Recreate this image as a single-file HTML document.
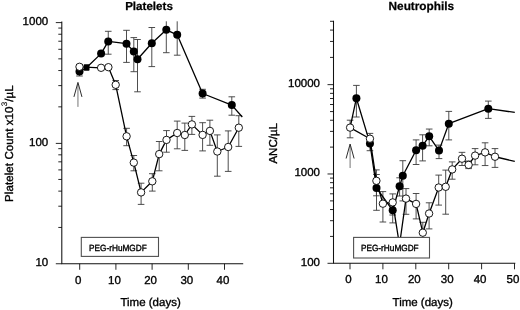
<!DOCTYPE html>
<html lang="en"><head><meta charset="utf-8"><title>Platelets and Neutrophils</title>
<style>html,body{margin:0;padding:0;background:#fff}body{width:520px;height:310px;overflow:hidden}svg{display:block}</style>
</head><body>
<svg width="520" height="310" viewBox="0 0 520 310" font-family='"Liberation Sans", sans-serif' text-rendering="geometricPrecision">
<style>text{fill:#000;stroke:#000;stroke-width:0.35px;stroke-linejoin:round}</style>
<rect width="520" height="310" fill="#fff"/>
<path d="M61.8 21.4V263.75H243.2" fill="none" stroke="#111" stroke-width="1.05"/>
<path d="M55.8 22.6H61.8M55.8 143.4H61.8M55.8 263.75H61.8M58.3 227.45H61.8M58.3 206.21H61.8M58.3 191.14H61.8M58.3 179.45H61.8M58.3 169.90H61.8M58.3 161.83H61.8M58.3 154.84H61.8M58.3 148.67H61.8M58.3 106.85H61.8M58.3 85.61H61.8M58.3 70.54H61.8M58.3 58.85H61.8M58.3 49.30H61.8M58.3 41.23H61.8M58.3 34.24H61.8M58.3 28.07H61.8M79.70 263.75V269.75M115.90 263.75V269.75M152.10 263.75V269.75M188.30 263.75V269.75M224.50 263.75V269.75" fill="none" stroke="#000" stroke-width="0.85"/>
<path d="M79.5 67V76M76.2 76H82.8M76.2 67H82.8M108.25 31.3V54.2M104.95 54.2H111.55M104.95 31.3H111.55M126.5 30.3V62.4M123.2 62.4H129.8M123.2 30.3H129.8M133.8 37.6V71.7M130.5 71.7H137.1M130.5 37.6H137.1M137.5 39.5V91.8M134.2 91.8H140.8M134.2 39.5H140.8M151.8 27.5V66.6M148.5 66.6H155.1M148.5 27.5H155.1M166.3 21.3V52.7M163.0 52.7H169.6M177.2 21.3V55.2M173.9 55.2H180.5M202.6 89.3V98.1M199.3 98.1H205.9M199.3 89.3H205.9M231.8 96.8V115.2M228.5 115.2H235.1M228.5 96.8H235.1M115.7 80.5V89.6M112.4 89.6H119.0M112.4 80.5H119.0M126.6 128.3V145.7M123.3 145.7H129.9M123.3 128.3H129.9M133.8 155.5V170.8M130.5 170.8H137.1M130.5 155.5H137.1M141.1 183.2V204.4M137.8 204.4H144.4M137.8 183.2H144.4M152.3 173.7V191.1M149.0 191.1H155.6M149.0 173.7H155.6M159.2 141.5V170.8M155.9 170.8H162.5M155.9 141.5H162.5M166.5 130.6V152.2M163.2 152.2H169.8M163.2 130.6H169.8M177.2 121.1V148.8M173.9 148.8H180.5M173.9 121.1H180.5M184.8 123.1V150.4M181.5 150.4H188.1M181.5 123.1H188.1M191.9 116.4V134.4M188.6 134.4H195.2M188.6 116.4H195.2M202.6 122.7V150.9M199.3 150.9H205.9M199.3 122.7H205.9M209.9 120.2V145.3M206.6 145.3H213.2M206.6 120.2H213.2M217.3 134.9V176.2M214.0 176.2H220.6M214.0 134.9H220.6M228.2 130.9V171.4M224.9 171.4H231.5M224.9 130.9H231.5M238.8 115.7V146.4M235.5 146.4H242.1M235.5 115.7H242.1" fill="none" stroke="#3a3a3a" stroke-width="0.9"/>
<path d="M79.5 71.6 L86.6 67.5 L101.1 53.6 L108.25 41.4 L126.5 43.7 L133.8 51.4 L137.5 59.2 L151.8 43.3 L166.3 29.8 L177.2 34.8 L202.6 93.5 L231.8 105.1 L242.3 117" fill="none" stroke="#000" stroke-width="1.3" stroke-linejoin="round"/>
<circle cx="79.5" cy="71.6" r="4.0" fill="#000"/>
<rect x="83.7" y="64.3" width="5.8" height="6.4" rx="0.8" fill="#000"/>
<circle cx="101.1" cy="53.6" r="4.0" fill="#000"/>
<circle cx="108.25" cy="41.4" r="4.0" fill="#000"/>
<circle cx="126.5" cy="43.7" r="4.0" fill="#000"/>
<circle cx="133.8" cy="51.4" r="4.0" fill="#000"/>
<circle cx="137.5" cy="59.2" r="4.0" fill="#000"/>
<circle cx="151.8" cy="43.3" r="4.0" fill="#000"/>
<circle cx="166.3" cy="29.8" r="4.0" fill="#000"/>
<circle cx="177.2" cy="34.8" r="4.0" fill="#000"/>
<circle cx="202.6" cy="93.5" r="4.0" fill="#000"/>
<circle cx="231.8" cy="105.1" r="4.0" fill="#000"/>
<path d="M79.5 66.8 L101.1 67.8 L108.4 67.2 L115.7 84.8 L126.6 136.3 L133.8 162.6 L141.1 192.4 L152.3 181.3 L159.2 154.1 L166.5 139.9 L177.2 133.0 L184.8 135 L191.9 124.4 L202.6 134.9 L209.9 130.9 L217.3 151.5 L228.2 147 L238.8 127.7" fill="none" stroke="#000" stroke-width="1.3" stroke-linejoin="round"/>
<circle cx="79.5" cy="66.8" r="3.7" fill="#fff" stroke="#000" stroke-width="0.9"/>
<circle cx="101.1" cy="67.8" r="3.7" fill="#fff" stroke="#000" stroke-width="0.9"/>
<circle cx="108.4" cy="67.2" r="3.7" fill="#fff" stroke="#000" stroke-width="0.9"/>
<circle cx="115.7" cy="84.8" r="3.7" fill="#fff" stroke="#000" stroke-width="0.9"/>
<circle cx="126.6" cy="136.3" r="3.7" fill="#fff" stroke="#000" stroke-width="0.9"/>
<circle cx="133.8" cy="162.6" r="3.7" fill="#fff" stroke="#000" stroke-width="0.9"/>
<circle cx="141.1" cy="192.4" r="3.7" fill="#fff" stroke="#000" stroke-width="0.9"/>
<circle cx="152.3" cy="181.3" r="3.7" fill="#fff" stroke="#000" stroke-width="0.9"/>
<circle cx="159.2" cy="154.1" r="3.7" fill="#fff" stroke="#000" stroke-width="0.9"/>
<circle cx="166.5" cy="139.9" r="3.7" fill="#fff" stroke="#000" stroke-width="0.9"/>
<circle cx="177.2" cy="133.0" r="3.7" fill="#fff" stroke="#000" stroke-width="0.9"/>
<circle cx="184.8" cy="135" r="3.7" fill="#fff" stroke="#000" stroke-width="0.9"/>
<circle cx="191.9" cy="124.4" r="3.7" fill="#fff" stroke="#000" stroke-width="0.9"/>
<circle cx="202.6" cy="134.9" r="3.7" fill="#fff" stroke="#000" stroke-width="0.9"/>
<circle cx="209.9" cy="130.9" r="3.7" fill="#fff" stroke="#000" stroke-width="0.9"/>
<circle cx="217.3" cy="151.5" r="3.7" fill="#fff" stroke="#000" stroke-width="0.9"/>
<circle cx="228.2" cy="147" r="3.7" fill="#fff" stroke="#000" stroke-width="0.9"/>
<circle cx="238.8" cy="127.7" r="3.7" fill="#fff" stroke="#000" stroke-width="0.9"/>
<path d="M77.95 106.9V84.4" fill="none" stroke="#666" stroke-width="0.9"/>
<path d="M73.95 96.9L77.95 82.4L81.95 96.9" fill="none" stroke="#222" stroke-width="0.95" stroke-linejoin="miter" stroke-miterlimit="10"/>
<rect x="81.3" y="237.4" width="77.2" height="19" fill="#fff" stroke="#505050" stroke-width="1.1"/>
<text transform="translate(117.9 250.8) scale(0.97 1.05)" font-size="8.5" text-anchor="middle">PEG-rHuMGDF</text>
<text x="48.20" y="25.0" font-size="11.5" text-anchor="end">1000</text>
<text x="48.20" y="145.8" font-size="11.5" text-anchor="end">100</text>
<text x="48.20" y="266.15" font-size="11.5" text-anchor="end">10</text>
<text x="78.20" y="283.6" font-size="11.5" text-anchor="middle">0</text>
<text x="114.40" y="283.6" font-size="11.5" text-anchor="middle">10</text>
<text x="150.60" y="283.6" font-size="11.5" text-anchor="middle">20</text>
<text x="186.80" y="283.6" font-size="11.5" text-anchor="middle">30</text>
<text x="223.00" y="283.6" font-size="11.5" text-anchor="middle">40</text>
<text x="150.6" y="305.9" font-size="11.5" text-anchor="middle">Time (days)</text>
<text x="149" y="10.2" font-size="11.6" font-weight="bold" style="stroke-width:0.25px" text-anchor="middle">Platelets</text>
<text transform="translate(12.7 143.6) rotate(-90)" font-size="11.5" letter-spacing="0.08" text-anchor="middle">Platelet Count x10<tspan dy="-6" dx="0.3" font-size="8" stroke-width="0.1">3</tspan><tspan dy="6" dx="-0.1">/µL</tspan></text>
<path d="M333.5 20.7V263.3H515.3" fill="none" stroke="#111" stroke-width="1.05"/>
<path d="M327.5 84.65H333.5M327.5 173.97H333.5M327.5 263.3H333.5M330.0 236.42H333.5M330.0 220.69H333.5M330.0 209.54H333.5M330.0 200.88H333.5M330.0 193.81H333.5M330.0 187.83H333.5M330.0 182.65H333.5M330.0 178.09H333.5M330.0 147.12H333.5M330.0 131.39H333.5M330.0 120.24H333.5M330.0 111.58H333.5M330.0 104.51H333.5M330.0 98.53H333.5M330.0 93.35H333.5M330.0 88.79H333.5M330.0 57.40H333.5M330.0 41.43H333.5M330.0 30.09H333.5M330.0 21.30H333.5M350.00 263.3V269.3M382.90 263.3V269.3M415.80 263.3V269.3M448.70 263.3V269.3M481.60 263.3V269.3M514.50 263.3V269.3" fill="none" stroke="#000" stroke-width="0.85"/>
<path d="M356.4 85.4V117.0M353.1 117.0H359.7M353.1 85.4H359.7M369.95 138V150.7M366.65 150.7H373.25M366.65 138H373.25M376.5 174.5V210.3M373.2 210.3H379.8M373.2 174.5H379.8M392.7 202V222.9M389.4 222.9H396.0M389.4 202H396.0M399.6 177.8V196M396.3 196H402.9M396.3 177.8H402.9M402.8 160.7V200.9M399.5 200.9H406.1M399.5 160.7H406.1M416.1 139.9V164.5M412.8 164.5H419.4M412.8 139.9H419.4M422.6 134.8V160.9M419.3 160.9H425.9M419.3 134.8H425.9M429.2 129.05V145.8M425.9 145.8H432.5M425.9 129.05H432.5M439 145.1V158.6M435.7 158.6H442.3M435.7 145.1H442.3M448.8 111.4V139.9M445.5 139.9H452.1M445.5 111.4H452.1M488.3 101.1V118.4M485.0 118.4H491.6M485.0 101.1H491.6M350.1 120.2V137.8M346.8 137.8H353.4M346.8 120.2H353.4M369.95 133.4V144M366.65 144H373.25M366.65 133.4H373.25M376.4 169.9V195.8M373.1 195.8H379.7M373.1 169.9H379.7M382.9 191.6V222M379.6 222H386.2M379.6 191.6H386.2M392.7 193.9V215M389.4 215H396.0M389.4 193.9H396.0M406.0 188.6V214.3M402.7 214.3H409.3M402.7 188.6H409.3M416.1 193.5V218.9M412.8 218.9H419.4M412.8 193.5H419.4M422.8 222.3V245M419.5 245H426.1M419.5 222.3H426.1M429.1 202.8V228.9M425.8 228.9H432.4M425.8 202.8H432.4M438.7 175.1V205.1M435.4 205.1H442.0M435.4 175.1H442.0M445.7 170.1V214.2M442.4 214.2H449.0M442.4 170.1H449.0M452.2 161.9V179.2M448.9 179.2H455.5M448.9 161.9H455.5M462.0 152.35V165.5M458.7 165.5H465.3M458.7 152.35H465.3M468.6 161.0V168.6M465.3 168.6H471.9M465.3 161.0H471.9M475.1 148.6V164.8M471.8 164.8H478.4M471.8 148.6H478.4M485.1 142.8V165.55M481.8 165.55H488.4M481.8 142.8H488.4M495.0 148.6V167.4M491.7 167.4H498.3M491.7 148.6H498.3" fill="none" stroke="#3a3a3a" stroke-width="0.9"/>
<path d="M350.1 127.6 L356.4 98.2 L369.95 143.4 L376.5 188.0 L392.7 210.3 L399.6 186.3 L402.8 175.7 L416.1 150.2 L422.6 145.7 L429.2 136.3 L439 150.6 L448.8 123.7 L488.3 108.7 L514.8 112.4" fill="none" stroke="#000" stroke-width="1.3" stroke-linejoin="round"/>
<circle cx="356.4" cy="98.2" r="4.0" fill="#000"/>
<circle cx="369.95" cy="143.4" r="4.0" fill="#000"/>
<circle cx="376.5" cy="188.0" r="4.0" fill="#000"/>
<circle cx="392.7" cy="210.3" r="4.0" fill="#000"/>
<circle cx="399.6" cy="186.3" r="4.0" fill="#000"/>
<circle cx="402.8" cy="175.7" r="4.0" fill="#000"/>
<circle cx="416.1" cy="150.2" r="4.0" fill="#000"/>
<circle cx="422.6" cy="145.7" r="4.0" fill="#000"/>
<circle cx="429.2" cy="136.3" r="4.0" fill="#000"/>
<circle cx="439" cy="150.6" r="4.0" fill="#000"/>
<circle cx="448.8" cy="123.7" r="4.0" fill="#000"/>
<circle cx="488.3" cy="108.7" r="4.0" fill="#000"/>
<path d="M350.1 127.6 L369.95 138.7 L376.4 180.8 L382.9 203.7 L392.7 202.4 L399.5 245 L406.0 198.6 L416.1 203.9 L422.8 232.7 L429.1 213.5 L438.7 187.5 L445.7 186.8 L452.2 169.4 L462.0 158.7 L468.6 164.9 L475.1 155.6 L485.1 152.35 L495.0 156.75 L514.8 161.4" fill="none" stroke="#000" stroke-width="1.3" stroke-linejoin="round"/>
<circle cx="350.1" cy="127.6" r="3.7" fill="#fff" stroke="#000" stroke-width="0.9"/>
<circle cx="369.95" cy="138.7" r="3.7" fill="#fff" stroke="#000" stroke-width="0.9"/>
<circle cx="376.4" cy="180.8" r="3.7" fill="#fff" stroke="#000" stroke-width="0.9"/>
<circle cx="382.9" cy="203.7" r="3.7" fill="#fff" stroke="#000" stroke-width="0.9"/>
<circle cx="392.7" cy="202.4" r="3.7" fill="#fff" stroke="#000" stroke-width="0.9"/>
<circle cx="406.0" cy="198.6" r="3.7" fill="#fff" stroke="#000" stroke-width="0.9"/>
<circle cx="416.1" cy="203.9" r="3.7" fill="#fff" stroke="#000" stroke-width="0.9"/>
<circle cx="422.8" cy="232.7" r="3.7" fill="#fff" stroke="#000" stroke-width="0.9"/>
<circle cx="429.1" cy="213.5" r="3.7" fill="#fff" stroke="#000" stroke-width="0.9"/>
<circle cx="438.7" cy="187.5" r="3.7" fill="#fff" stroke="#000" stroke-width="0.9"/>
<circle cx="445.7" cy="186.8" r="3.7" fill="#fff" stroke="#000" stroke-width="0.9"/>
<circle cx="452.2" cy="169.4" r="3.7" fill="#fff" stroke="#000" stroke-width="0.9"/>
<circle cx="462.0" cy="158.7" r="3.7" fill="#fff" stroke="#000" stroke-width="0.9"/>
<circle cx="468.6" cy="164.9" r="3.7" fill="#fff" stroke="#000" stroke-width="0.9"/>
<circle cx="475.1" cy="155.6" r="3.7" fill="#fff" stroke="#000" stroke-width="0.9"/>
<circle cx="485.1" cy="152.35" r="3.7" fill="#fff" stroke="#000" stroke-width="0.9"/>
<circle cx="495.0" cy="156.75" r="3.7" fill="#fff" stroke="#000" stroke-width="0.9"/>
<path d="M350.1 168.0V146.0" fill="none" stroke="#666" stroke-width="0.9"/>
<path d="M346.1 158.5L350.1 144.0L354.1 158.5" fill="none" stroke="#222" stroke-width="0.95" stroke-linejoin="miter" stroke-miterlimit="10"/>
<rect x="353.6" y="237.4" width="75.9" height="20.6" fill="#fff" stroke="#505050" stroke-width="1.1"/>
<text transform="translate(389.8 251.4) scale(0.97 1.05)" font-size="8.5" text-anchor="middle">PEG-rHuMGDF</text>
<text x="320.00" y="87.05" font-size="11.5" text-anchor="end">10000</text>
<text x="320.00" y="176.37" font-size="11.5" text-anchor="end">1000</text>
<text x="320.00" y="265.7" font-size="11.5" text-anchor="end">100</text>
<text x="348.50" y="283.2" font-size="11.5" text-anchor="middle">0</text>
<text x="381.40" y="283.2" font-size="11.5" text-anchor="middle">10</text>
<text x="414.30" y="283.2" font-size="11.5" text-anchor="middle">20</text>
<text x="447.20" y="283.2" font-size="11.5" text-anchor="middle">30</text>
<text x="480.10" y="283.2" font-size="11.5" text-anchor="middle">40</text>
<text x="513.00" y="283.2" font-size="11.5" text-anchor="middle">50</text>
<text x="422.7" y="305.6" font-size="11.5" text-anchor="middle">Time (days)</text>
<text x="421.35" y="9.6" font-size="11.8" font-weight="bold" style="stroke-width:0.25px" text-anchor="middle">Neutrophils</text>
<text transform="translate(276.8 143.3) rotate(-90)" font-size="11.5" letter-spacing="0" text-anchor="middle">ANC/µL</text>
</svg>
</body></html>
